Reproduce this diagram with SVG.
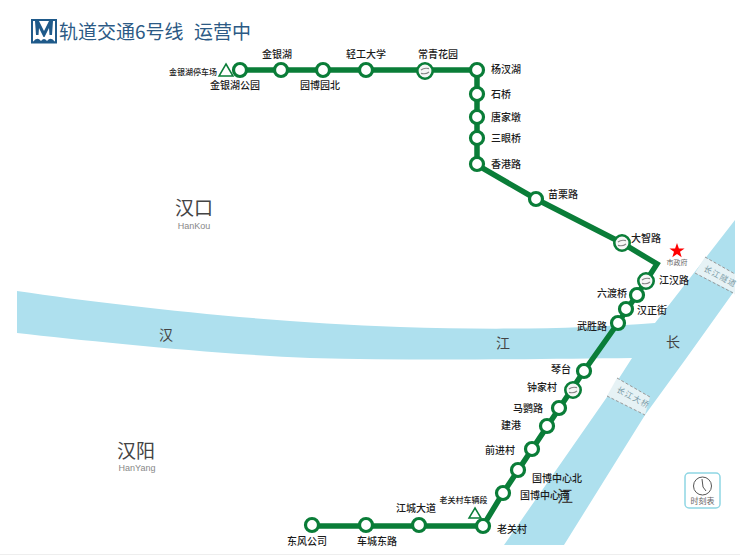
<svg xmlns="http://www.w3.org/2000/svg" width="740" height="557" viewBox="0 0 740 557">
<style>
text{font-family:"Noto Sans CJK SC","Noto Sans",sans-serif}
.l{font-size:10px;fill:#1c1c1c;font-weight:500}
.s{font-size:8px;fill:#222;font-weight:500}
.c{text-anchor:middle}
.r{text-anchor:end}
.st{fill:#fff;stroke:#0a7d38;stroke-width:3.2}
.ixs{fill:#f6f6f6;stroke:#0a7d38;stroke-width:2.6}
.line{fill:none;stroke:#0a7d38;stroke-width:5.5;stroke-linejoin:miter}
.river{fill:#aee0ee}
.rt{font-size:14px;fill:#444;text-anchor:middle}
.big{font-size:19px;fill:#444;text-anchor:middle}
.py{font-size:9px;fill:#888;text-anchor:middle;font-family:"Liberation Sans",sans-serif}
.br{fill:#e6f2f5;stroke:none}
.bre{stroke:#999;stroke-width:1;stroke-dasharray:3 2;fill:none}
.brt{font-size:8px;fill:#7a9aa5;text-anchor:middle;letter-spacing:1px}
.tri{fill:#fff;stroke:#0a7d38;stroke-width:1.5}
.ic{fill:none;stroke:#888;stroke-width:1.2}
.ttl{font-size:19px;fill:#2c5a85}
</style>
<defs>
<g id="ix"><path class="ic" d="M-4-1Q-1-3.500 4-2.400M4 1Q1 3.500-4 2.400"/></g>
</defs>
<rect width="740" height="557" fill="#fff"/>
<g id="water">
<path class="river" d="M17 291C120 306 260 322 400 327C490 330 580 329 655 323L735 220V290L685 360L645 415L564 545H504L607 397L632 358C540 359 420 361 310 358C200 353 90 341 17 333Z"/>
<path class="br" d="M705 257L735 274V293L695 273Z"/>
<path class="bre" d="M705 257L735 274M695 273L735 294"/>
<path class="br" d="M617 378L650 397L645 415L607 396Z"/>
<path class="bre" d="M617 378L650 397M607 396L645 415"/>
<text class="brt" transform="translate(719 279) rotate(28)">长江隧道</text>
<text class="brt" transform="translate(632 400) rotate(28)">长江大桥</text>
<text class="rt" x="166" y="340">汉</text>
<text class="rt" x="503" y="348">江</text>
<text class="rt" x="673" y="347">长</text>
<text class="rt" x="565" y="502" style="font-size:16px">江</text>
</g>
<g id="districts">
<text class="big" x="194" y="215">汉口</text>
<text class="py" x="194" y="229">HanKou</text>
<text class="big" x="136" y="458">汉阳</text>
<text class="py" x="137" y="471">HanYang</text>
</g>
<g id="title">
<rect x="32" y="20" width="24" height="22.500" fill="#fff" stroke="#1f5a8a" stroke-width="2"/>
<path d="M35 21H39L44 31L49 21H53L52 35H49.500L49 28L44.500 37H43.500L39 28L38.500 35H36Z" fill="#1f5a8a"/>
<path d="M33 42Q37 36 41 41Q44 37 47 41Q51 36 55 42Z" fill="#1f5a8a"/>
<text class="ttl" x="59" y="39">轨道交通6号线</text>
<text class="ttl" x="194" y="39">运营中</text>
</g>
<g id="connectors">
<path class="line" d="M240 70H477V165L536 199L622 243L657 264L646 281L618 323L584 371L503 493L483 526H312"/>
</g>
<g id="depots">
<path class="tri" d="M226 64L233 76H219Z"/>
<text class="s r" x="217" y="75">金银湖停车场</text>
<path class="tri" d="M475 508L481 518H469Z"/>
<text class="s c" x="463.500" y="503">老关村车辆段</text>
</g>
<g id="st-jinyinhugongyuan"><circle class="st" cx="240" cy="70" r="6.500"/><text class="l c" x="235" y="89">金银湖公园</text></g>
<g id="st-jinyinhu"><circle class="st" cx="281" cy="70" r="6.500"/><text class="l c" x="277" y="58">金银湖</text></g>
<g id="st-yuanboyuanbei"><circle class="st" cx="323" cy="70" r="6.500"/><text class="l c" x="320" y="89">园博园北</text></g>
<g id="st-qinggong"><circle class="st" cx="366" cy="70" r="6.500"/><text class="l c" x="366" y="58">轻工大学</text></g>
<g id="st-changqing"><circle class="ixs" cx="425" cy="71" r="7.700"/><use href="#ix" x="425" y="71"/><text class="l c" x="438" y="58">常青花园</text></g>
<g id="st-yangchahu"><circle class="st" cx="477" cy="70" r="6.500"/><text class="l" x="491" y="73">杨汊湖</text></g>
<g id="st-shiqiao"><circle class="st" cx="477" cy="94" r="6.500"/><text class="l" x="491" y="98">石桥</text></g>
<g id="st-tangjiadun"><circle class="st" cx="477" cy="117" r="6.500"/><text class="l" x="491" y="121">唐家墩</text></g>
<g id="st-sanyanqiao"><circle class="st" cx="477" cy="138" r="6.500"/><text class="l" x="491" y="142">三眼桥</text></g>
<g id="st-xianggang"><circle class="st" cx="477" cy="164" r="6.500"/><text class="l" x="491" y="168">香港路</text></g>
<g id="st-miaoli"><circle class="st" cx="536" cy="199" r="6.500"/><text class="l" x="548" y="198">苗栗路</text></g>
<g id="st-dazhi"><circle class="ixs" cx="622" cy="243" r="7.700"/><use href="#ix" x="622" y="243"/><text class="l" x="631" y="242">大智路</text></g>
<g id="shizhengfu"><path d="M677 243L678.900 248.400H684.600L680 251.800L681.700 257.300L677 254L672.300 257.300L674 251.800L669.400 248.400H675.100Z" fill="#f00"/><text x="677" y="265" font-size="7" fill="#666" text-anchor="middle">市政府</text></g>
<g id="st-jianghan"><circle class="ixs" cx="646" cy="281" r="7.700"/><use href="#ix" x="646" y="281"/><text class="l" x="659" y="284">江汉路</text></g>
<g id="st-liuduqiao"><circle class="st" cx="637" cy="295" r="6.500"/><text class="l r" x="627" y="297">六渡桥</text></g>
<g id="st-hanzheng"><circle class="st" cx="626" cy="309" r="6.500"/><text class="l" x="637" y="314">汉正街</text></g>
<g id="st-wusheng"><circle class="st" cx="618" cy="323" r="6.500"/><text class="l r" x="607" y="330">武胜路</text></g>
<g id="st-qintai"><circle class="st" cx="584" cy="371" r="6.500"/><text class="l r" x="571" y="373">琴台</text></g>
<g id="st-zhongjia"><circle class="ixs" cx="573" cy="390" r="7.700"/><use href="#ix" x="573" y="390"/><text class="l r" x="557" y="391">钟家村</text></g>
<g id="st-maying"><circle class="st" cx="559" cy="408" r="6.500"/><text class="l r" x="543" y="412">马鹦路</text></g>
<g id="st-jiangang"><circle class="st" cx="547" cy="426" r="6.500"/><text class="l r" x="521" y="429">建港</text></g>
<g id="st-qianjin"><circle class="st" cx="532" cy="449" r="6.500"/><text class="l r" x="515" y="454">前进村</text></g>
<g id="st-guobobei"><circle class="st" cx="518" cy="470" r="6.500"/><text class="l" x="532" y="482">国博中心北</text></g>
<g id="st-guobonan"><circle class="st" cx="503" cy="493" r="6.500"/><text class="l" x="520" y="499">国博中心南</text></g>
<g id="st-laoguan"><circle class="st" cx="483" cy="526" r="6.500"/><text class="l" x="497" y="533">老关村</text></g>
<g id="st-jiangcheng"><circle class="st" cx="419" cy="525" r="6.500"/><text class="l c" x="416" y="512">江城大道</text></g>
<g id="st-chechengdong"><circle class="st" cx="366" cy="525" r="6.500"/><text class="l c" x="377" y="545">车城东路</text></g>
<g id="st-dongfeng"><circle class="st" cx="312" cy="525" r="6.500"/><text class="l c" x="307" y="545">东风公司</text></g>
<g id="timetable">
<rect x="685" y="473" width="35" height="35" rx="4" fill="#fff" stroke="#8fd6e4" stroke-width="1.500"/>
<circle cx="702.500" cy="486" r="9" fill="none" stroke="#555" stroke-width="1"/>
<path d="M702 479L703 487L706 491" fill="none" stroke="#555" stroke-width="1"/>
<text x="702.500" y="504" font-size="8" fill="#666" text-anchor="middle">时刻表</text>
</g>
<path id="footline" d="M0 554.500H740" stroke="#eee" stroke-width="1"/>
</svg>
